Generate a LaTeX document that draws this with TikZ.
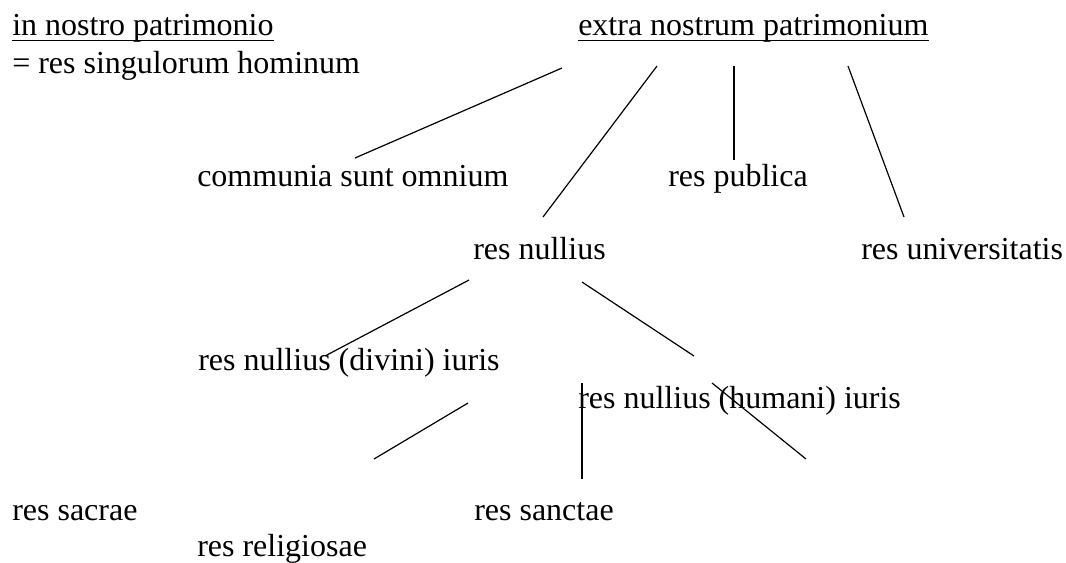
\documentclass[tikz,border=0pt]{standalone}
\usepackage{fontspec}
\setmainfont{Liberation Serif}
\newcommand{\labelsize}{\fontsize{24pt}{28pt}\selectfont}
\newcommand{\ulabel}[1]{%
    \draw[line width=1.2pt] ([yshift=-4.2pt]#1.base west) -- ([yshift=-4.2pt]#1.base east);
}
\tikzset{
    lbl/.style={anchor=base west, inner sep=0pt, font=\labelsize},
    branch/.style={line width=0.9pt}
}

\begin{document}
\begin{tikzpicture}[x=0.75pt, y=-0.75pt]

\useasboundingbox (0,0) rectangle (1066,562);

% heading labels
\node[lbl] (innostro) at (12, 35) {in nostro patrimonio};
\node[lbl] (singulorum) at (12, 73) {= res singulorum hominum};
\node[lbl] (extra) at (578, 35) {extra nostrum patrimonium};
\ulabel{innostro}
\ulabel{extra}

% second and third row
\node[lbl] (communia) at (197, 186) {communia sunt omnium};
\node[lbl] (publica) at (668, 186) {res publica};
\node[lbl] (nullius) at (473, 259) {res nullius};
\node[lbl] (universitatis) at (861, 259) {res universitatis};

% res nullius split
\node[lbl] (divini) at (198, 370) {res nullius (divini) iuris};
\node[lbl] (humani) at (578, 408) {res nullius (humani) iuris};

% bottom row
\node[lbl] (sacrae) at (12, 520) {res sacrae};
\node[lbl] (sanctae) at (474, 520) {res sanctae};
\node[lbl] (religiosae) at (197, 556) {res religiosae};

% line end coordinates
\coordinate (E1) at (562, 68);   \coordinate (C1) at (355, 158);
\coordinate (E2) at (657, 66);   \coordinate (N1) at (543, 217);
\coordinate (E3) at (734, 66);   \coordinate (P1) at (734, 160);
\coordinate (E4) at (848, 66);   \coordinate (U1) at (904, 217);
\coordinate (N2) at (469, 280);  \coordinate (D1) at (325, 356);
\coordinate (N3) at (582, 282);  \coordinate (H1) at (694, 356);
\coordinate (D2) at (468, 403);  \coordinate (R1) at (374, 459);
\coordinate (S1) at (582, 383);  \coordinate (S2) at (582, 479);
\coordinate (H2) at (712, 383);  \coordinate (H3) at (806, 459);

\foreach \from/\to in {E1/C1, E2/N1, E3/P1, E4/U1, N2/D1, N3/H1, D2/R1, S1/S2, H2/H3}
    \draw[branch] (\from) -- (\to);

\end{tikzpicture}
\end{document}
